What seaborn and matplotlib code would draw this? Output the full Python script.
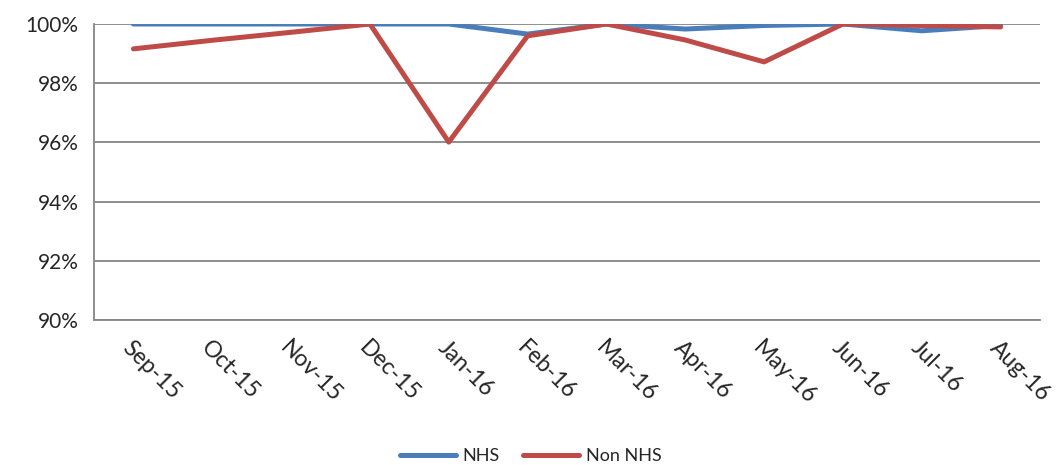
import matplotlib
matplotlib.use("Agg")
import matplotlib.pyplot as plt
import seaborn as sns
import pandas as pd
import numpy as np
from matplotlib.ticker import FixedLocator, FuncFormatter

months = ["Sep-15", "Oct-15", "Nov-15", "Dec-15", "Jan-16", "Feb-16",
          "Mar-16", "Apr-16", "May-16", "Jun-16", "Jul-16", "Aug-16"]
nhs = [100.0, 100.0, 100.0, 100.0, 100.0, 99.66, 100.0, 99.83, 99.95, 100.0, 99.77, 99.95]
non_nhs = [99.16, 99.45, 99.72, 100.0, 96.01, 99.6, 100.0, 99.46, 98.72, 100.0, 99.95, 99.9]
yticks = [90, 92, 94, 96, 98, 100]

sns.set_style("white")
plt.rcParams['font.family'] = ['Lato', 'DejaVu Sans']

df = pd.DataFrame({
    "month": months * 2,
    "value": nhs + non_nhs,
    "series": ["NHS"] * len(months) + ["Non NHS"] * len(months),
})
df["pos"] = list(range(len(months))) * 2

fig = plt.figure(figsize=(10.62, 4.65), dpi=100)
ax = fig.add_axes([94 / 1062, 1 - 320 / 465, (1040 - 94) / 1062, (320 - 24) / 465])

sns.lineplot(data=df, x="pos", y="value", hue="series",
             palette={"NHS": "#4A7EBB", "Non NHS": "#BE4B48"},
             linewidth=3.6, ax=ax, legend=True, solid_capstyle="round")

ax.set_xlim(-0.5, len(months) - 0.5)
ax.set_ylim(90, 100)
ax.set_yticks(yticks)
ax.yaxis.set_major_formatter(FuncFormatter(lambda v, p: f"{v:.0f}%"))
ax.grid(axis="y", color="#868686", linewidth=1.3)
ax.set_axisbelow(True)

ax.xaxis.set_major_locator(FixedLocator(np.arange(-0.5, len(months), 1.0)))
ax.xaxis.set_major_formatter(FuncFormatter(lambda v, p: ""))
ax.set_xticks(np.arange(len(months)), minor=True)
ax.set_xticklabels(months, minor=True, rotation=-45, ha="left", va="top",
                   rotation_mode="anchor", fontsize=16.5)
ax.tick_params(axis="x", which="minor", length=0, pad=12)
ax.tick_params(axis="x", which="major", length=6, width=1.3, color="#868686", direction="out")
ax.tick_params(axis="y", length=7, width=1.3, color="#868686", direction="out", labelsize=15, pad=4)
ax.set_xlabel("")
ax.set_ylabel("")

for s in ["top", "right"]:
    ax.spines[s].set_visible(False)
for s in ["left", "bottom"]:
    ax.spines[s].set_color("#868686")
    ax.spines[s].set_linewidth(1.3)

handles, labels = ax.get_legend_handles_labels()
ax.legend(handles, labels, loc="lower center", bbox_to_anchor=(0.5, -0.033),
          bbox_transform=fig.transFigure, ncol=2, frameon=False, fontsize=13,
          handlelength=3.1, handletextpad=0.35, columnspacing=1.3)

fig.savefig("out.png", dpi=100)
